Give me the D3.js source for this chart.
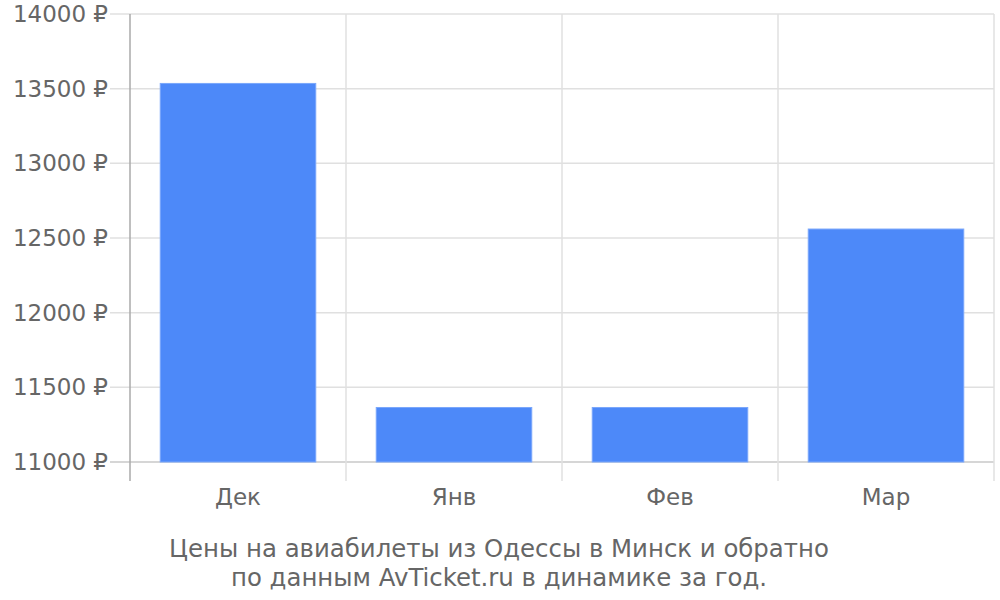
<!DOCTYPE html>
<html>
<head>
<meta charset="utf-8">
<script src="https://cdn.jsdelivr.net/npm/d3@7"></script>
<style>
  body { margin: 0; background: #fff; }
  text { font-family: "DejaVu Sans", sans-serif; fill: #666; }
</style>
</head>
<body>
<div id="chart"></div>
<script>
// Prices Odessa - Minsk, by month
const months = ["Дек", "Янв", "Фев", "Мар"];
const prices = [13535, 11365, 11365, 12560];
const yTicks = [11000, 11500, 12000, 12500, 13000, 13500, 14000];
const titleLines = [
    "Цены на авиабилеты из Одессы в Минск и обратно",
    "по данным AvTicket.ru в динамике за год."
];

const margin = { top: 14, right: 6, bottom: 138, left: 130 };
const width = 1000 - margin.left - margin.right;
const height = 600 - margin.top - margin.bottom;

const svg = d3.select("#chart")
    .append("svg")
    .attr("width", 1000)
    .attr("height", 600)
    .append("g")
    .attr("transform", `translate(${margin.left},${margin.top})`);

const x = d3.scaleBand()
    .domain(months)
    .range([0, width])
    .paddingInner(0.28)
    .paddingOuter(0.14);

const y = d3.scaleLinear()
    .domain([11000, 14000])
    .range([height, 0]);

// horizontal grid (with tick stubs to the left)
svg.append("g")
    .selectAll("line")
    .data(yTicks)
    .enter()
    .append("line")
    .attr("x1", -20)
    .attr("x2", width)
    .attr("y1", d => y(d))
    .attr("y2", d => y(d))
    .attr("stroke", d => d === 11000 ? "#c8c8c8" : "#e0e0e0")
    .attr("stroke-width", 1.5);

// vertical grid at band edges
const edges = d3.range(months.length + 1).map(i => i * width / months.length);
svg.append("g")
    .selectAll("line")
    .data(edges.slice(1))
    .enter()
    .append("line")
    .attr("x1", d => d)
    .attr("x2", d => d)
    .attr("y1", 0)
    .attr("y2", height + 19)
    .attr("stroke", "#e0e0e0")
    .attr("stroke-width", 1.5);

// left axis line
svg.append("line")
    .attr("x1", 0).attr("x2", 0)
    .attr("y1", 0).attr("y2", height + 19)
    .attr("stroke", "#aaa")
    .attr("stroke-width", 1.5);

// y labels
svg.append("g")
    .selectAll("text")
    .data(yTicks)
    .enter()
    .append("text")
    .attr("x", -22)
    .attr("y", d => y(d))
    .attr("dy", "0.35em")
    .attr("text-anchor", "end")
    .style("font-size", "23px")
    .text(d => `${d} ₽`);

// bars
svg.selectAll(".bar")
    .data(prices)
    .enter()
    .append("rect")
    .attr("class", "bar")
    .attr("x", (d, i) => x(months[i]))
    .attr("width", x.bandwidth())
    .attr("y", d => y(d))
    .attr("height", d => height - y(d))
    .attr("fill", "#4d89f9")
    .attr("stroke", "#7aa7fb")
    .attr("stroke-width", 1);

// x labels
svg.append("g")
    .selectAll("text")
    .data(months)
    .enter()
    .append("text")
    .attr("x", d => x(d) + x.bandwidth() / 2)
    .attr("y", height + 43)
    .attr("text-anchor", "middle")
    .style("font-size", "23px")
    .text(d => d);

// caption
svg.append("g")
    .selectAll("text")
    .data(titleLines)
    .enter()
    .append("text")
    .attr("x", 499 - margin.left)
    .attr("y", (d, i) => height + 95 + i * 29)
    .attr("text-anchor", "middle")
    .style("font-size", "24.4px")
    .text(d => d);
</script>
</body>
</html>
